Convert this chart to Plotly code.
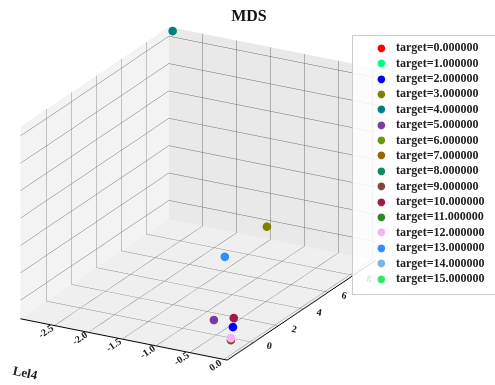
import plotly.graph_objects as go

# ---- data ----
targets = list(range(16))
labels = ["target=%f" % t for t in targets]
colors = ["#ff0000", "#00ff7f", "#0000ff", "#808000", "#008080", "#7b3aa0",
          "#6b9a10", "#9a6400", "#0b8a66", "#7d4a3a", "#a3174a", "#2a8a22",
          "#f7b0f2", "#2f8fff", "#74b9e6", "#2fe86a"]
xs = [[-0.2205], [-0.2529], [-0.188], [-0.947], [-2.924], [-0.523], [-0.5555], [-0.5879],
      [-0.3635], [-0.0559], [-0.331], [-0.3959], [-0.0234], [-1.078], [-0.0883], [-0.1208]]
ys = [[-0.1865], [-0.0100], [-0.363], [6.49], [9.681], [-0.065], [0.1115], [0.2880],
      [0.6615], [-1.2405], [0.485], [0.8380], [-1.417], [3.83], [-1.0640], [-0.8874]]
zs = [[-0.1882], [-0.2583], [-0.118], [1.075], [6.27], [-0.118], [-0.1882], [-0.2583],
      [-0.1882], [-0.2614], [-0.118], [-0.2583], [-0.118], [0.724], [-0.2583], [-0.3285]]

x_range = [-3.0, 0.05]
y_range = [-2.1, 9.8]
z_range = [-0.68, 6.34]
x_ticks = [-2.5, -2.0, -1.5, -1.0, -0.5, 0.0]
y_ticks = [0, 2, 4, 6, 8]
z_ticks = [0, 1, 2, 3, 4, 5, 6]

fig = go.Figure()
for t in targets:
    fig.add_trace(go.Scatter3d(
        x=xs[t], y=ys[t], z=zs[t], mode="markers", name=labels[t],
        marker=dict(size=5, color=colors[t], line=dict(width=0)),
        showlegend=False, hoverinfo="skip"))

serif = "Liberation Serif"
grid = "#707070"
fig.update_layout(
    width=495, height=385,
    margin=dict(l=0, r=0, t=0, b=0),
    paper_bgcolor="white",
    font=dict(family=serif, size=11, color="#222"),
    title=dict(text="<b>MDS</b>", x=0.503, xanchor="center", y=0.96,
               yanchor="middle", font=dict(family=serif, size=16, color="#111")),
    scene=dict(
        domain=dict(x=[0.0, 1.0], y=[0.0, 1.0]),
        aspectmode="manual", aspectratio=dict(x=1.2236, y=1.6107, z=1.0725),
        xaxis=dict(range=x_range, tickvals=x_ticks, ticktext=["<b>%.1f</b>" % v for v in x_ticks],
                   title=dict(text=""), showbackground=True, backgroundcolor="#f3f3f3",
                   gridcolor=grid, gridwidth=1, showline=True, linecolor="black", linewidth=2,
                   zeroline=False, showspikes=False, tickfont=dict(family=serif, size=11, color="#222")),
        yaxis=dict(range=y_range, tickvals=y_ticks, ticktext=["<b>%d</b>" % v for v in y_ticks],
                   title=dict(text=""), showbackground=True, backgroundcolor="#e9e9e9",
                   gridcolor=grid, gridwidth=1, showline=True, linecolor="black", linewidth=2,
                   zeroline=False, showspikes=False, tickfont=dict(family=serif, size=11, color="#222")),
        zaxis=dict(range=z_range, tickvals=z_ticks, showticklabels=False,
                   title=dict(text=""), showbackground=True, backgroundcolor="#efefef",
                   gridcolor=grid, gridwidth=1, showline=False,
                   zeroline=False, showspikes=False),
        camera=dict(eye=dict(x=1.1153, y=-1.5092, z=0.7379),
                    center=dict(x=0.2245, y=0.1246, z=0.0049),
                    up=dict(x=0, y=0, z=1),
                    projection=dict(type="orthographic")),
    ),
)

# x-axis label
fig.add_annotation(text="<b>Lel4</b>", xref="paper", yref="paper", x=25 / 495, y=1 - 372 / 385,
                   xanchor="center", yanchor="middle",
                   showarrow=False, textangle=12, font=dict(family=serif, size=13, color="#222"))

# legend box
fig.add_annotation(text=" ", xref="paper", yref="paper", x=352 / 495, y=1 - 35 / 385,
                   xanchor="left", yanchor="top", width=150, height=258, showarrow=False,
                   bgcolor="rgba(255,255,255,0.85)", bordercolor="#cccccc", borderwidth=1, borderpad=0)
for t in targets:
    yc = 1 - (47.3 + t * 15.38) / 385
    fig.add_annotation(text="●", xref="paper", yref="paper", x=381.7 / 495, y=yc,
                       xanchor="center", yanchor="middle", showarrow=False,
                       font=dict(family="DejaVu Sans", size=10, color=colors[t]))
    fig.add_annotation(text="<b>%s</b>" % labels[t], xref="paper", yref="paper", x=394 / 495, y=yc,
                       xanchor="left", yanchor="middle", showarrow=False,
                       font=dict(family=serif, size=12, color="#222"))

fig.write_html("out.html", config={"displayModeBar": False},
               post_script="document.body.style.margin='0px';")
